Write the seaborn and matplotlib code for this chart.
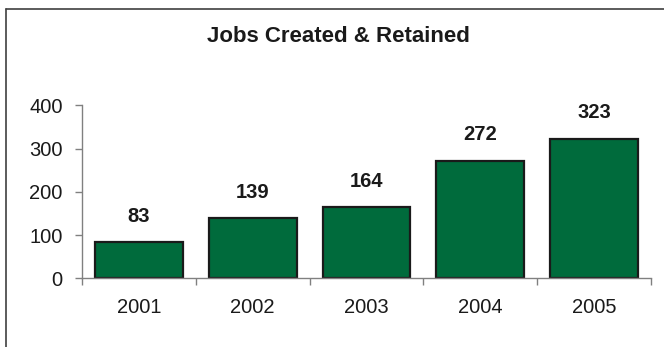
import matplotlib
matplotlib.use("Agg")
import matplotlib.pyplot as plt
from matplotlib.lines import Line2D
import seaborn as sns
import pandas as pd
import numpy as np

years = ["2001", "2002", "2003", "2004", "2005"]
jobs = [83, 139, 164, 272, 323]
yticks = [0, 100, 200, 300, 400]
title = "Jobs Created & Retained"

sns.set_style("white")
plt.rcParams['font.family'] = ['Liberation Sans', 'DejaVu Sans']

df = pd.DataFrame({"year": years, "jobs": jobs})

fig = plt.figure(figsize=(6.64, 3.47), dpi=100)
ax = fig.add_axes([82/664, 68.7/347, (651-82)/664, (278.3-105.3)/347])

sns.barplot(data=df, x="year", y="jobs", color="#006b3c", saturation=1,
            edgecolor="#1a1a1a", linewidth=1.6, width=0.77, ax=ax)

ax.set_ylim(0, 400)
ax.set_xlim(-0.5, len(years) - 0.5)
ax.set_yticks(yticks)
ax.set_xlabel("")
ax.set_ylabel("")
for s in ["top", "right"]:
    ax.spines[s].set_visible(False)
for s in ["left", "bottom"]:
    ax.spines[s].set_color("#808080")
    ax.spines[s].set_linewidth(1.0)

ax.tick_params(axis="y", which="major", length=5, width=1, color="#808080",
               labelsize=14.5, labelcolor="#1a1a1a", pad=9, left=True)
ax.tick_params(axis="x", which="major", length=0, labelsize=14.5,
               labelcolor="#1a1a1a", pad=14.5)
ax.set_xticks(np.arange(-0.5, len(years) + 0.5, 1), minor=True)
ax.tick_params(axis="x", which="minor", length=5, width=1, color="#808080",
               bottom=True)

for i, v in enumerate(jobs):
    ax.annotate(str(v), (i, v), xytext=(0, 12), textcoords="offset points",
                ha="center", va="bottom", fontsize=14.5, fontweight="bold",
                color="#1a1a1a")

fig.text(338/664, 1 - 36/347, title, ha="center", va="center",
         fontsize=16, fontweight="bold", color="#1a1a1a")

fig.add_artist(Line2D([6/664, 1.0], [1 - 9/347, 1 - 9/347],
                      transform=fig.transFigure, color="#404040", linewidth=1.2))
fig.add_artist(Line2D([6/664, 6/664], [0, 1 - 9/347],
                      transform=fig.transFigure, color="#404040", linewidth=1.2))

fig.savefig("out.png", dpi=100)
